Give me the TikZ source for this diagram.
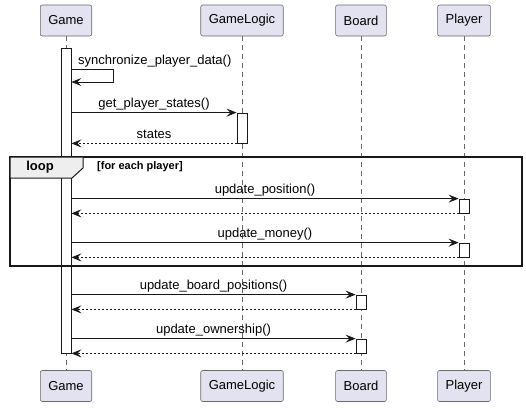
\documentclass[tikz,border=0pt]{standalone}
\usepackage{fontspec}
\setmainfont{Liberation Sans}
\usetikzlibrary{arrows.meta}
\definecolor{pp}{RGB}{226, 226, 240}
\definecolor{ln}{RGB}{24, 24, 24}
\definecolor{tb}{RGB}{238, 238, 238}

\begin{document}
\begin{tikzpicture}[font=\fontsize{13pt}{15pt}\selectfont,
part/.style={rectangle, rounded corners=2pt, fill=pp, draw=ln!65, line width=0.6pt, minimum height=31pt, inner xsep=8pt},
life/.style={draw=ln!65, line width=0.6pt, dash pattern=on 5pt off 4pt},
act/.style={rectangle, fill=white, draw=ln, line width=0.8pt, minimum width=10pt, inner sep=0pt},
msg/.style={draw=ln, line width=0.8pt, -{Stealth[length=10pt, width=8pt, inset=4pt]}},
ret/.style={msg, dash pattern=on 2pt off 2pt},
lbl/.style={anchor=base, yshift=5pt, inner sep=0pt}]
\useasboundingbox (0pt, 0pt) rectangle (526pt, -407pt);
% participants
\node (gameT) [part] at (66pt, -20.5pt) {Game};
\node (logicT) [part] at (242pt, -20.5pt) {GameLogic};
\node (boardT) [part] at (361pt, -20.5pt) {Board};
\node (playerT) [part] at (464pt, -20.5pt) {Player};
\node (gameB) [part] at (66pt, -386pt) {Game};
\node (logicB) [part] at (242pt, -386pt) {GameLogic};
\node (boardB) [part] at (361pt, -386pt) {Board};
\node (playerB) [part] at (464pt, -386pt) {Player};
\draw [life] (gameT) to (gameB);
\draw [life] (logicT) to (logicB);
\draw [life] (boardT) to (boardB);
\draw [life] (playerT) to (playerB);
% activations
\node (gameA) [act, minimum height=305pt] at (66pt, -200.5pt) {};
\node (logicA) [act, minimum height=30pt] at (242pt, -128pt) {};
\node (playerA1) [act, minimum height=14pt] at (464pt, -206pt) {};
\node (playerA2) [act, minimum height=14pt] at (464pt, -250pt) {};
\node (boardA1) [act, minimum height=14pt] at (361pt, -302pt) {};
\node (boardA2) [act, minimum height=14pt] at (361pt, -346pt) {};
% messages
\coordinate (selfA) at (113pt, -69pt);
\coordinate (selfB) at (113pt, -82pt);
\node (selfL) [anchor=base west, inner sep=0pt] at (78pt, -64pt) {synchronize\_player\_data()};
\draw [msg] (gameA.east |- selfA) -- (selfA) -- (selfB) -- (gameA.east |- selfB);
\draw [msg] (gameA.east |- logicA.north) to node [lbl] {get\_player\_states()} (logicA.north west);
\draw [ret] (logicA.south west) to node [lbl] {states} (gameA.east |- logicA.south);
\draw [msg] (gameA.east |- playerA1.north) to node [lbl] {update\_position()} (playerA1.north west);
\draw [ret] (playerA1.south west) to (gameA.east |- playerA1.south);
\draw [msg] (gameA.east |- playerA2.north) to node [lbl] {update\_money()} (playerA2.north west);
\draw [ret] (playerA2.south west) to (gameA.east |- playerA2.south);
\draw [msg] (gameA.east |- boardA1.north) to node [lbl] {update\_board\_positions()} (boardA1.north west);
\draw [ret] (boardA1.south west) to (gameA.east |- boardA1.south);
\draw [msg] (gameA.east |- boardA2.north) to node [lbl] {update\_ownership()} (boardA2.north west);
\draw [ret] (boardA2.south west) to (gameA.east |- boardA2.south);
% loop frame
\draw [draw=ln, line width=1.3pt] (10pt, -157pt) rectangle (522pt, -266pt);
\draw [draw=ln, fill=tb, line width=1pt] (10pt, -157pt) -- (83pt, -157pt) -- (83pt, -168pt) -- (72pt, -178pt) -- (10pt, -178pt) -- cycle;
\node (loopL) [font=\fontsize{13pt}{15pt}\selectfont\bfseries] at (40pt, -167.5pt) {loop};
\node (loopC) [anchor=west, inner sep=0pt, font=\fontsize{11pt}{13pt}\selectfont\bfseries] at (97pt, -167pt) {[for each player]};
\end{tikzpicture}
\end{document}
